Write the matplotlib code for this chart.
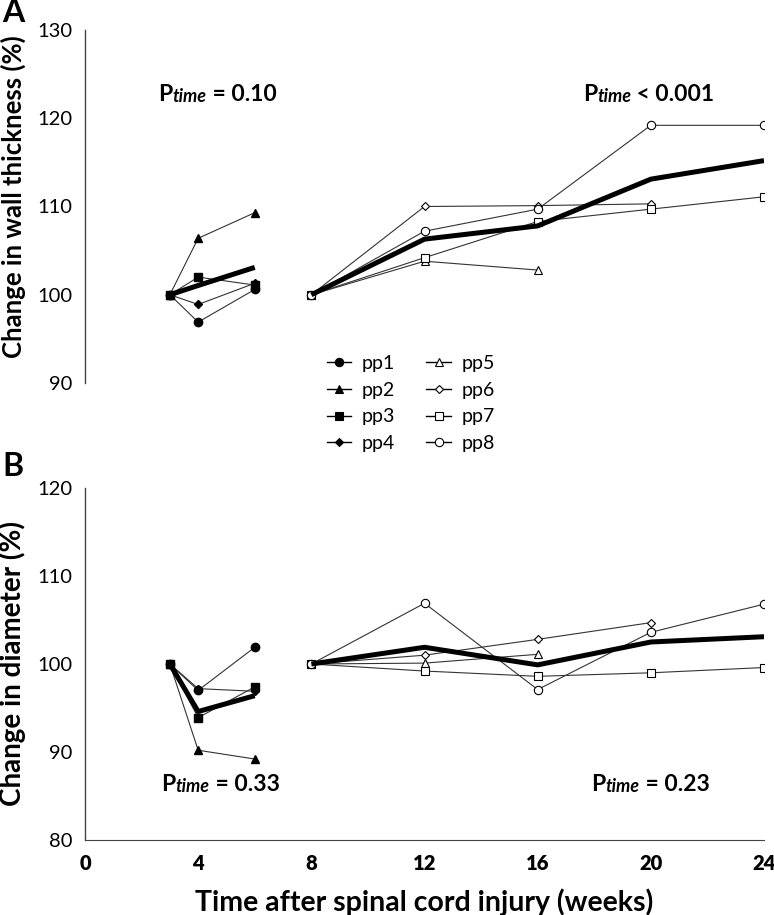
import numpy as np
import matplotlib
matplotlib.use("Agg")
import matplotlib.pyplot as plt
from matplotlib.lines import Line2D

plt.rcParams['font.family'] = ['Lato', 'DejaVu Sans']

# weeks after injury
wk_early = [3, 4, 6]
wk_late = [8, 12, 16, 20, 24]

# A: wall thickness (%), early group pp1-pp4
wall_pp1 = [100, 96.9, 100.6]
wall_pp2 = [100, 106.4, 109.3]
wall_pp3 = [100, 102.0, 101.1]
wall_pp4 = [100, 98.9, 101.3]
wall_mean_early = [100, 101.05, 103.1]
# late group pp5-pp8 (None = no measurement)
wall_pp5 = [100, 103.8, 102.8, None, None]
wall_pp6 = [100, 110.0, 110.1, 110.3, None]
wall_pp7 = [100, 104.2, 108.3, 109.7, 111.1]
wall_pp8 = [100, 107.2, 109.7, 119.2, 119.2]
wall_mean_late = [100, 106.3, 107.8, 113.1, 115.2]

# B: diameter (%)
diam_pp1 = [100, 97.0, 101.9]
diam_pp2 = [100, 90.2, 89.2]
diam_pp3 = [100, 93.9, 97.4]
diam_pp4 = [100, 97.2, 96.9]
diam_mean_early = [100, 94.6, 96.4]
diam_pp5 = [100, 100.1, 101.1, None, None]
diam_pp6 = [100, 101.0, 102.8, 104.7, None]
diam_pp7 = [100, 99.2, 98.6, 99.0, 99.6]
diam_pp8 = [100, 106.9, 97.1, 103.6, 106.8]
diam_mean_late = [100, 101.9, 99.9, 102.5, 103.1]

names = ['pp1', 'pp2', 'pp3', 'pp4', 'pp5', 'pp6', 'pp7', 'pp8']
markers = ['o', '^', 's', 'D', '^', 'D', 's', 'o']
msizes = [6, 6, 5.5, 4.5, 5.5, 4.5, 6, 6]
xtick_vals = [0, 4, 8, 12, 16, 20, 24]

LINE_C = '#333333'


def arr(v):
    return np.array([np.nan if x is None else x for x in v], dtype=float)


def draw_panel(ax, early, late, mean_e, mean_l):
    for i, ys in enumerate(early):
        ax.plot(wk_early, ys, color=LINE_C, lw=0.8, marker=markers[i],
                ms=msizes[i], mfc='black', mec='black', zorder=3)
    for j, ys in enumerate(late):
        i = j + 4
        y = arr(ys)
        ok = ~np.isnan(y)
        ax.plot(np.array(wk_late)[ok], y[ok], color=LINE_C, lw=0.8,
                marker=markers[i], ms=msizes[i], mfc='white', mec='black',
                mew=0.8, zorder=3)
    ax.plot(wk_early, mean_e, color='black', lw=3.6, zorder=4,
            solid_capstyle='butt')
    ax.plot(wk_late, mean_l, color='black', lw=3.6, zorder=4,
            solid_capstyle='butt')


def p_text(ax, x, y, sym, val):
    t1 = ax.text(x, y, 'P', fontsize=16.5, fontweight='bold', va='baseline')
    t2 = ax.annotate('time', xy=(1, 0), xycoords=t1, fontsize=13,
                     fontweight='bold', style='italic', va='bottom')
    ax.annotate(' ' + sym + ' ' + val, xy=(1, 0), xycoords=t2,
                fontsize=16.5, fontweight='bold', va='bottom')


fig = plt.figure(figsize=(7.74, 9.15), dpi=100)
W, H = 774, 915
axA = fig.add_axes([85 / W, 1 - 383 / H, (764 - 85) / W, (383 - 30) / H])
axB = fig.add_axes([85 / W, 1 - 840 / H, (764 - 85) / W, (840 - 488) / H])

draw_panel(axA, [wall_pp1, wall_pp2, wall_pp3, wall_pp4],
           [wall_pp5, wall_pp6, wall_pp7, wall_pp8],
           wall_mean_early, wall_mean_late)
draw_panel(axB, [diam_pp1, diam_pp2, diam_pp3, diam_pp4],
           [diam_pp5, diam_pp6, diam_pp7, diam_pp8],
           diam_mean_early, diam_mean_late)

for ax in (axA, axB):
    ax.set_xlim(0, 24)
    for s in ('top', 'right'):
        ax.spines[s].set_visible(False)
    ax.spines['left'].set_color('#444444')
    ax.spines['left'].set_linewidth(1.0)
    ax.tick_params(length=0, labelsize=14.5, pad=9)

axA.set_ylim(90, 130)
axA.set_yticks([90, 100, 110, 120, 130])
axA.spines['bottom'].set_visible(False)
axA.set_xticks([])
axA.set_ylabel('Change in wall thickness (%)', fontsize=18.5,
               fontweight='bold')
axA.yaxis.set_label_coords(-0.087, 0.527)

axB.set_ylim(80, 120)
axB.set_yticks([80, 90, 100, 110, 120])
axB.tick_params(axis='x', pad=10)
axB.set_xticks(xtick_vals)
axB.set_xticklabels([str(v) for v in xtick_vals], fontweight='heavy',
                    fontsize=14.5)
axB.spines['bottom'].set_color('#444444')
axB.set_xlabel('Time after spinal cord injury (weeks)', fontsize=20.5,
               fontweight='bold', labelpad=11)
axB.set_ylabel('Change in diameter (%)', fontsize=20, fontweight='bold')
axB.yaxis.set_label_coords(-0.087, 0.5)

p_text(axA, 2.6, 122.0, '=', '0.10')
p_text(axA, 17.6, 122.0, '<', '0.001')
p_text(axB, 2.7, 85.6, '=', '0.33')
p_text(axB, 17.9, 85.6, '=', '0.23')

fig.text(13 / W, 1 - 13 / H, 'A', fontsize=23, fontweight='bold',
         va='center', ha='center')
fig.text(13 / W, 1 - 467 / H, 'B', fontsize=23, fontweight='bold',
         va='center', ha='center')

handles = []
for i, n in enumerate(names):
    fc = 'black' if i < 4 else 'white'
    handles.append(Line2D([], [], color='black', lw=1.0, marker=markers[i],
                          ms=msizes[i], mfc=fc, mec='black', mew=0.8,
                          label=n))
fig.legend(handles=handles, ncol=2, loc='upper left',
           bbox_to_anchor=(327 / W, 1 - 355 / H), frameon=False,
           borderpad=0, borderaxespad=0,
           fontsize=14, handlelength=1.25, handletextpad=0.55,
           columnspacing=1.6, labelspacing=0.5)

fig.savefig('out.png', dpi=100)
